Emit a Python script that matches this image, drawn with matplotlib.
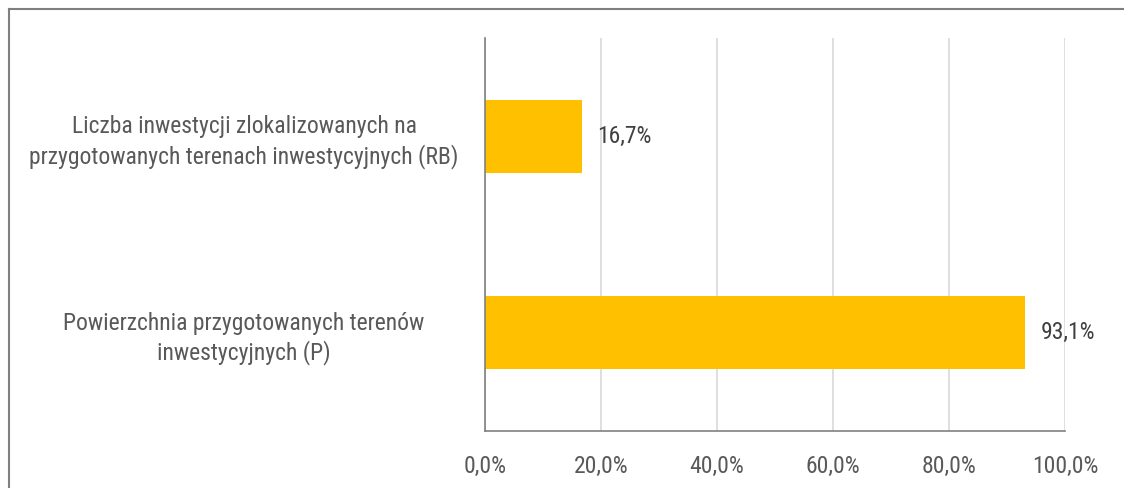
import matplotlib.pyplot as plt
from matplotlib.lines import Line2D

plt.rcParams['font.family'] = ['Roboto Condensed', 'Roboto', 'DejaVu Sans']

categories = ['Powierzchnia przygotowanych terenów\ninwestycyjnych (P)',
              'Liczba inwestycji zlokalizowanych na\nprzygotowanych terenach inwestycyjnych (RB)']
values = [93.1, 16.7]
xticks = [0, 20, 40, 60, 80, 100]

W, H = 1124, 488
fig = plt.figure(figsize=(W / 100, H / 100), dpi=100)
ax = fig.add_axes([485 / W, 1 - 431 / H, 580 / W, 393 / H])

ypos = range(len(categories))
ax.barh(ypos, values, height=0.37, color='#FFC000', zorder=3)

for y, v in zip(ypos, values):
    ax.text(v + 2.7, y, f'{v:.1f}%'.replace('.', ','), va='center', ha='left',
            fontsize=17, color='#404040')

ax.set_xlim(0, 100)
ax.set_ylim(-0.5, 1.5)
ax.set_xticks(xticks)
ax.set_xticklabels([f'{t:.1f}%'.replace('.', ',') for t in xticks])
ax.set_yticks(list(ypos))
ax.set_yticklabels(categories, ha='center', linespacing=1.3)
ax.tick_params(axis='y', length=0, pad=173.5, labelsize=17, labelcolor='#595959')
ax.tick_params(axis='x', length=0, pad=17, labelsize=17, labelcolor='#595959')

ax.grid(axis='x', color='#D9D9D9', linewidth=1.2, zorder=0)
for s in ['top', 'right']:
    ax.spines[s].set_visible(False)
ax.spines['left'].set_color('#808080')
ax.spines['bottom'].set_color('#808080')
ax.spines['left'].set_linewidth(1.2)
ax.spines['bottom'].set_linewidth(1.2)
ax.spines['left'].set_zorder(4)

# frame of the chart area
x0, y0 = 8.5 / W, 1 - 8.5 / H
fig.add_artist(Line2D([x0, 1], [y0, y0], color='#7F7F7F', linewidth=1.5, transform=fig.transFigure))
fig.add_artist(Line2D([x0, x0], [0, y0], color='#7F7F7F', linewidth=1.5, transform=fig.transFigure))

fig.savefig('out.png', dpi=100)
